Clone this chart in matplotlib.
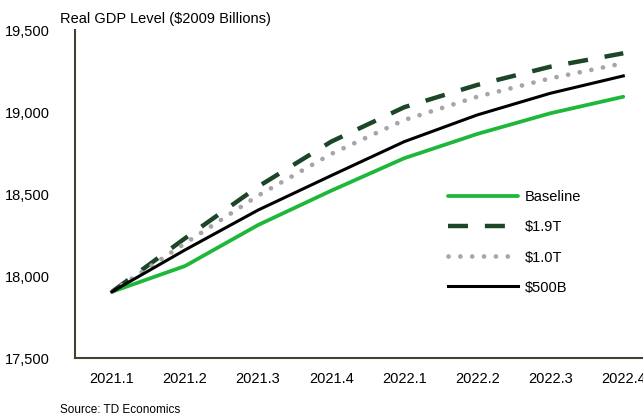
import numpy as np
import matplotlib
matplotlib.use('Agg')
import matplotlib.pyplot as plt

plt.rcParams['font.family'] = ['Liberation Sans', 'DejaVu Sans']

quarters = ['2021.1', '2021.2', '2021.3', '2021.4', '2022.1', '2022.2', '2022.3', '2022.4']
baseline = [17904, 18061, 18311, 18520, 18718, 18866, 18992, 19093]
t19 = [17904, 18230, 18545, 18819, 19029, 19165, 19276, 19358]
t10 = [17904, 18199, 18490, 18744, 18951, 19093, 19205, 19297]
b500 = [17904, 18159, 18402, 18612, 18819, 18982, 19114, 19220]
yticks = [17500, 18000, 18500, 19000, 19500]

fig = plt.figure(figsize=(6.43, 4.15), dpi=100)
ax = fig.add_axes([75/643, 1-358/415, 1-75/643, (358-30)/415])

x = np.arange(len(quarters))
ax.plot(x, baseline, color='#1db83a', lw=2.7, label='Baseline', solid_capstyle='round')
ax.plot(x, t19, color='#1d4527', lw=3.2, linestyle=(0, (4.5, 3.8)), dash_capstyle='butt', label='$1.9T')
ax.plot(x, t10, color='#a6a6a8', lw=3.4, linestyle=(0, (0.01, 2.5)), dash_capstyle='round', label='$1.0T')
ax.plot(x, b500, color='black', lw=2.2, label='$500B')

ax.set_xlim(-0.507, 7.27)
ax.set_ylim(17500, 19500)
ax.set_xticks(x)
ax.set_xticklabels(quarters)
ax.set_yticks(yticks)
ax.set_yticklabels([f'{v:,}' for v in yticks])
ax.tick_params(axis='both', length=0, labelsize=10.5)
ax.tick_params(axis='y', pad=18)
ax.tick_params(axis='x', pad=10)

for s in ['top', 'right']:
    ax.spines[s].set_visible(False)
for s in ['left', 'bottom']:
    ax.spines[s].set_color('#3b4630')
    ax.spines[s].set_linewidth(1.5)

leg = ax.legend(loc='center left', bbox_to_anchor=(448/643, 1-242.5/415),
                bbox_transform=fig.transFigure, frameon=False, fontsize=10.5,
                handlelength=4.8, handletextpad=0.45, labelspacing=1.1,
                borderpad=0, borderaxespad=0)

fig.text(60/643, 1-19/415, 'Real GDP Level ($2009 Billions)', fontsize=10.5, va='center', ha='left')
fig.text(60/643, 1-410/415, 'Source: TD Economics', fontsize=8.5, va='center', ha='left')

fig.savefig('out.png', dpi=100)
